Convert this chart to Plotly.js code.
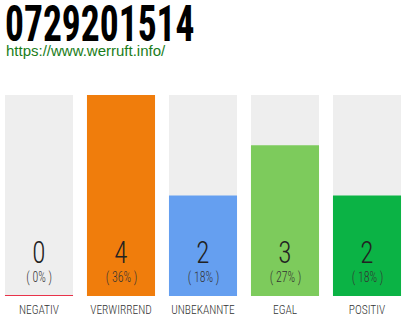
<!DOCTYPE html>
<html>
<head>
<meta charset="utf-8">
<script src="https://cdn.plot.ly/plotly-3.0.1.min.js"></script>
<style>
  html, body { margin: 0; padding: 0; background: #fff; }
  #chart { width: 410px; height: 320px; }
</style>
</head>
<body>
<div id="chart"></div>
<script>
// Rating categories and how many calls fell into each
const categories = ["NEGATIV", "VERWIRREND", "UNBEKANNTE", "EGAL", "POSITIV"];
const counts = [0, 4, 2, 3, 2];
const percents = [0, 36, 18, 27, 18];
const barColors = ["#e8334a", "#f07d0c", "#659ff0", "#7dcb5c", "#0bb345"];

const phone = "0729201514";
const siteUrl = "https://www.werruft.info/";

const maxCount = Math.max(...counts);
const condensed = "Roboto Condensed, Liberation Sans Narrow, sans-serif";

const W = 410, H = 320;
const margin = { l: 0, r: 0, t: 95, b: 24, pad: 0 };
// convert a pixel row of the page into paper coordinates of the plot area
const paperY = px => (H - margin.b - px) / (H - margin.t - margin.b);

// Grey track behind each bar, full height of the scale
const track = {
  type: "bar",
  x: categories,
  y: categories.map(() => maxCount),
  marker: { color: "#eeeeee" },
  width: 0.83,
  hoverinfo: "skip",
  showlegend: false
};

const bars = {
  type: "bar",
  x: categories,
  y: counts,
  marker: { color: barColors },
  width: 0.83,
  showlegend: false
};

const annotations = [];
categories.forEach((c, i) => {
  annotations.push({
    x: c, y: 0.88, xref: "x", yref: "y",
    text: String(counts[i]), showarrow: false,
    font: { family: condensed, size: 32, weight: 300, color: "#222" }
  });
  annotations.push({
    x: c, y: 0.36, xref: "x", yref: "y",
    text: "( " + percents[i] + "% )", showarrow: false,
    font: { family: condensed, size: 14, weight: 300, color: "#333" }
  });
});
annotations.push({
  x: 0, y: paperY(40), xref: "paper", yref: "paper", xanchor: "left", yanchor: "top",
  xshift: 4,
  text: siteUrl, showarrow: false,
  font: { family: "Liberation Sans, Arial, sans-serif", size: 15, color: "#1a7d1a" }
});

// A thin red baseline marks categories with no entries
const shapes = [];
counts.forEach((v, i) => {
  if (v === 0) {
    shapes.push({
      type: "line", xref: "x", yref: "y",
      x0: i - 0.415, x1: i + 0.415, y0: 0, y1: 0,
      line: { color: barColors[i], width: 2 }
    });
  }
});

const layout = {
  width: W, height: H,
  margin: margin,
  paper_bgcolor: "#fff", plot_bgcolor: "#fff",
  title: {
    text: phone,
    x: 0, xref: "container", xanchor: "left",
    y: 1 - 23 / H, yref: "container", yanchor: "middle",
    pad: { l: 5, t: 0 },
    font: { family: condensed, size: 50, weight: 700, color: "#000" }
  },
  barmode: "overlay",
  xaxis: {
    type: "category",
    range: [-0.4756, 4.5244],
    showgrid: false, zeroline: false, showline: false,
    ticks: "", ticklabelstandoff: 4,
    tickfont: { family: condensed, size: 13, weight: 300, color: "#333" }
  },
  yaxis: {
    range: [0, maxCount],
    showgrid: false, zeroline: false, showline: false,
    showticklabels: false, ticks: ""
  },
  annotations: annotations,
  shapes: shapes
};

// Narrow a text element horizontally around its own anchor point
function squeeze(el, sx, anchor) {
  const b = el.getBBox();
  const cx = anchor === "left" ? b.x : b.x + b.width / 2;
  const cy = b.y + b.height / 2;
  const prev = el.getAttribute("transform") || "";
  el.setAttribute("transform",
    prev + ` translate(${cx},${cy}) scale(${sx},1) translate(${-cx},${-cy})`);
}

Plotly.newPlot("chart", [track, bars], layout, { staticPlot: true, displayModeBar: false })
  .then(gd => {
    gd.querySelectorAll(".gtitle").forEach(t => squeeze(t, 0.75, "left"));
    gd.querySelectorAll(".xtick text").forEach(t => squeeze(t, 0.88, "center"));
    gd.querySelectorAll(".annotation-text").forEach(t => {
      if (t.textContent === siteUrl) return;
      squeeze(t, 0.85, "center");
    });
  });
</script>
</body>
</html>
